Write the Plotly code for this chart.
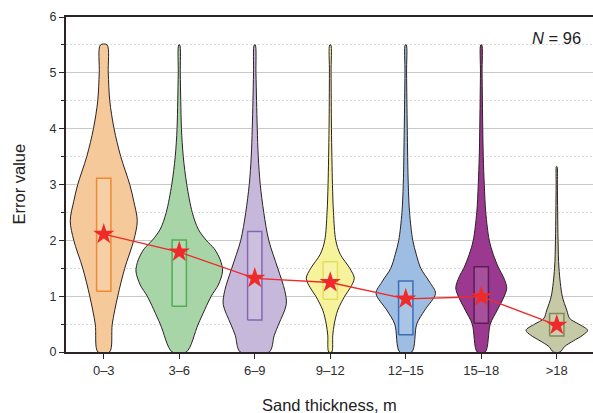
import plotly.graph_objects as go

# Sand-thickness classes (m)
categories = ["0–3", "3–6", "6–9", "9–12", "12–15", "15–18", ">18"]

# Interquartile range and mean of the error value for each class
q1 = [1.09, 0.82, 0.575, 0.946, 0.31, 0.515, 0.287]
q3 = [3.11, 2.005, 2.16, 1.616, 1.27, 1.526, 0.69]
means = [2.11, 1.79, 1.32, 1.245, 0.95, 0.99, 0.48]

# Kernel-density profiles: error-value levels and relative density at each level
dens_levels = [
    [0, 0.5, 1, 1.5, 2, 2.35, 2.7, 3, 3.5, 4, 4.5, 5, 5.5],
    [0, 0.5, 1, 1.2, 1.45, 1.65, 1.85, 2, 2.2, 2.5, 3, 3.5, 4, 4.5, 5, 5.5],
    [0, 0.3, 0.5, 0.85, 1.1, 1.5, 2, 2.5, 3, 3.5, 4, 4.5, 5, 5.5],
    [0, 0.3, 0.5, 0.75, 1, 1.15, 1.32, 1.5, 1.75, 2, 2.5, 3, 4, 5, 5.5],
    [0, 0.5, 0.75, 1.05, 1.25, 1.5, 1.75, 2, 2.5, 3, 4, 5, 5.5],
    [0, 0.5, 0.75, 1, 1.15, 1.35, 1.5, 1.75, 2, 2.5, 3, 3.5, 4, 5, 5.5],
    [0, 0.1, 0.2, 0.3, 0.39, 0.5, 0.6, 0.75, 1, 1.5, 2, 2.5, 3, 3.32],
]
dens_values = [
    [5.8, 8.5, 14, 21, 30, 33.5, 30, 26, 17, 10.3, 6, 4.5, 3.3],
    [7, 19, 32, 39, 43.3, 41, 35, 27, 19, 13, 7.5, 4, 2.2, 1.5, 1, 0.5],
    [14.5, 19.5, 24, 31.5, 30, 23, 14, 9, 5.5, 3.5, 2.5, 1.8, 1.2, 0.5],
    [1.5, 2.5, 4, 7.5, 14.5, 20, 24, 19.5, 10, 5.5, 3.2, 2.2, 1.2, 0.8, 0.5],
    [6, 11, 19, 29.7, 24, 15, 10.5, 7, 3.8, 2.5, 1.5, 0.8, 0.5],
    [4, 9, 16, 23, 25.5, 22, 17.5, 12, 8, 4.5, 3, 2, 1.5, 0.8, 0.5],
    [3.3, 8, 16.7, 26, 30.8, 22, 13, 10, 5.5, 2.2, 1.3, 0.9, 0.6, 0.3],
]

n_total = 96

# Styling
fill_colors = ["#f6c99b", "#a8d5a8", "#c6b8db", "#f6f39c", "#9ebde3", "#9b3990", "#c6c9a6"]
box_colors = ["#f08a30", "#4fae52", "#8467b3", "#e6df5c", "#3a6fb8", "#5c1d56", "#7f8a58"]
dens_scale = 1 / 75.5      # density units -> category widths
box_half = 0.095
axis_color = "#2b2424"
grid_color = "#c9c9c9"
minor_grid_color = "#dadada"
font_family = "Liberation Sans, Arial, sans-serif"

fig = go.Figure()

for i, cat in enumerate(categories):
    lv = dens_levels[i]
    hw = [d * dens_scale for d in dens_values[i]]
    xs = [i + w for w in hw] + [i - w for w in reversed(hw)] + [i + hw[0]]
    ys = list(lv) + list(reversed(lv)) + [lv[0]]
    fig.add_trace(go.Scatter(
        x=xs, y=ys, mode="lines", fill="toself",
        fillcolor=fill_colors[i],
        line=dict(color="#2a2222", width=1, shape="spline", smoothing=0.9),
        hoverinfo="skip", showlegend=False,
    ))

for i, cat in enumerate(categories):
    fig.add_trace(go.Scatter(
        x=[i - box_half, i + box_half, i + box_half, i - box_half, i - box_half],
        y=[q1[i], q1[i], q3[i], q3[i], q1[i]],
        mode="lines", fill="toself", fillcolor="rgba(255,255,255,0.12)",
        line=dict(color=box_colors[i], width=1.5),
        hoverinfo="skip", showlegend=False,
    ))

fig.add_trace(go.Scatter(
    x=list(range(len(categories))), y=means,
    mode="lines+markers",
    line=dict(color="#ee2a2a", width=1.3),
    marker=dict(symbol="star", size=16, color="#ee2a2a", line=dict(width=0)),
    showlegend=False,
))

fig.update_layout(
    width=593, height=413,
    margin=dict(l=66, r=0, t=17, b=61),
    paper_bgcolor="white", plot_bgcolor="white",
    font=dict(family=font_family, color="#333333"),
    showlegend=False,
    xaxis=dict(
        range=[-0.5, 6.48],
        tickmode="array", tickvals=list(range(len(categories))), ticktext=categories,
        showgrid=False, zeroline=False,
        showline=True, linecolor=axis_color, linewidth=2, mirror=True,
        ticks="outside", ticklen=5, tickwidth=1, tickcolor=axis_color,
        tickfont=dict(size=13, color="#2e2e2e"),
    ),
    yaxis=dict(
        range=[0, 6], dtick=1,
        showgrid=True, gridcolor=grid_color, gridwidth=1,
        zeroline=False,
        showline=True, linecolor=axis_color, linewidth=2,
        ticks="outside", ticklen=5, tickwidth=1, tickcolor=axis_color,
        tickfont=dict(size=12.5, color="#2e2e2e"),
        minor=dict(dtick=0.5, showgrid=True, gridcolor=minor_grid_color, griddash="2px,2px",
                   gridwidth=1, ticks="outside", ticklen=3, tickcolor=axis_color),
    ),
    annotations=[
        dict(text="Sand thickness, m", xref="paper", yref="paper",
             x=0.5, y=(352 - 405) / 335, xanchor="center", yanchor="middle",
             showarrow=False, font=dict(size=16.5, color="#222222")),
        dict(text="Error value", xref="paper", yref="paper",
             x=(18 - 66) / 527, y=0.5, xanchor="center", yanchor="middle",
             textangle=-90, showarrow=False, font=dict(size=16.5, color="#222222")),
        dict(text=f"<i>N</i> = {n_total}", xref="paper", yref="paper",
             x=(583 - 66) / 527, y=(352 - 37.5) / 335, xanchor="right", yanchor="middle",
             showarrow=False, font=dict(size=16.5, color="#222222")),
    ],
)

fig.write_html("out.html")
